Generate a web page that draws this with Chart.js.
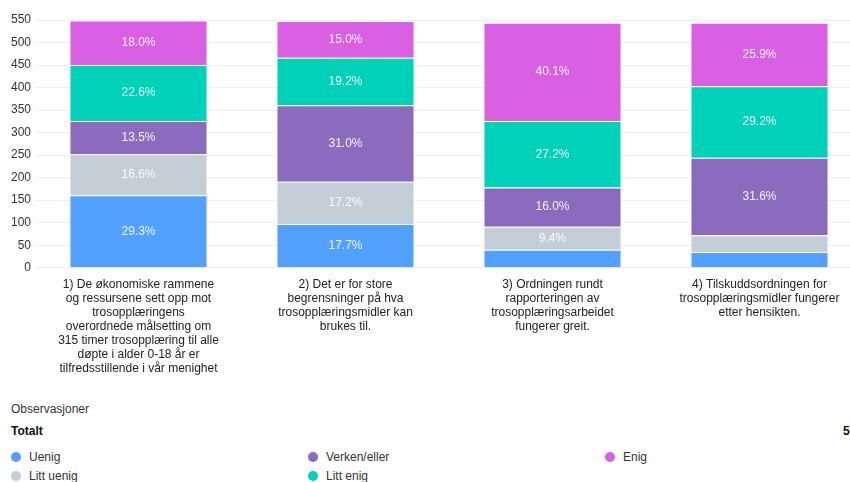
<!DOCTYPE html>
<html>
<head>
<meta charset="utf-8">
<script src="https://cdn.jsdelivr.net/npm/chart.js@4"></script>
<style>
  html, body { margin: 0; padding: 0; background: #fff; overflow: hidden; }
  body { width: 850px; height: 482px; font-family: "Liberation Sans", Arial, sans-serif; color: #333; }
  #wrap { position: relative; width: 866px; height: 482px; }
  #chartBox { position: absolute; left: 0; top: 0; width: 866px; height: 378px; }
  .obs { position: absolute; left: 11px; top: 402px; font-size: 12px; color: #333; }
  .tot { position: absolute; left: 11px; top: 424px; font-size: 12px; font-weight: bold; color: #111; }
  .totn { position: absolute; left: 843px; top: 424px; font-size: 12px; font-weight: bold; color: #111; }
  .leg { position: absolute; font-size: 12px; color: #333; white-space: nowrap; }
  .leg .dot { position: absolute; left: 0; top: 2px; width: 10px; height: 10px; border-radius: 50%; }
  .leg span.t { position: absolute; left: 18px; top: 0; }
</style>
</head>
<body>
<div id="wrap">
  <div id="chartBox"><canvas id="c"></canvas></div>
  <div class="obs">Observasjoner</div>
  <div class="tot">Totalt</div>
  <div class="totn" id="totn"></div>
  <div id="legend"></div>
</div>
<script>
const categories = [
  ["1) De økonomiske rammene", "og ressursene sett opp mot", "trosopplæringens", "overordnede målsetting om", "315 timer trosopplæring til alle", "døpte i alder 0-18 år er", "tilfredsstillende i vår menighet"],
  ["2) Det er for store", "begrensninger på hva", "trosopplæringsmidler kan", "brukes til."],
  ["3) Ordningen rundt", "rapporteringen av", "trosopplæringsarbeidet", "fungerer greit."],
  ["4) Tilskuddsordningen for", "trosopplæringsmidler fungerer", "etter hensikten."]
];
const seriesNames = ["Uenig", "Litt uenig", "Verken/eller", "Litt enig", "Enig"];
const uenig     = [161, 97, 40, 35];
const littUenig = [91, 94, 51, 37];
const verken    = [74, 170, 87, 172];
const littEnig  = [124, 105, 148, 159];
const enig      = [99, 82, 218, 141];
const colors = ["#52A0FF", "#C4CED6", "#8B6BBD", "#00D1B9", "#D960E2"];
const yTicks = [0, 50, 100, 150, 200, 250, 300, 350, 400, 450, 500, 550];
const totalN = "549";

const seriesValues = [uenig, littUenig, verken, littEnig, enig];
const totals = categories.map((_, i) => seriesValues.reduce((s, arr) => s + arr[i], 0));

const FONT = '"Liberation Sans", Arial, sans-serif';

const pctPlugin = {
  id: 'pctLabels',
  afterDatasetsDraw(chart) {
    const ctx = chart.ctx;
    ctx.save();
    ctx.font = '12px ' + FONT;
    ctx.fillStyle = 'rgba(255,255,255,0.92)';
    ctx.textAlign = 'center';
    ctx.textBaseline = 'middle';
    chart.data.datasets.forEach((ds, di) => {
      const meta = chart.getDatasetMeta(di);
      meta.data.forEach((bar, i) => {
        const pct = ds.data[i] / totals[i] * 100;
        if (pct < 8) return;
        const cy = (bar.y + bar.base) / 2;
        ctx.fillText(pct.toFixed(1) + '%', bar.x, cy);
      });
    });
    ctx.restore();
  }
};

new Chart(document.getElementById('c'), {
  type: 'bar',
  data: {
    labels: categories,
    datasets: seriesNames.map((n, k) => ({
      label: n,
      data: seriesValues[k],
      backgroundColor: colors[k],
      borderColor: 'rgba(255,255,255,0.35)',
      borderWidth: 1,
      barPercentage: 0.667,
      categoryPercentage: 1.0
    }))
  },
  options: {
    responsive: true,
    maintainAspectRatio: false,
    animation: false,
    layout: { padding: { left: 11, right: 3, top: 20, bottom: 0 } },
    plugins: { legend: { display: false }, tooltip: { enabled: false } },
    scales: {
      x: {
        stacked: true,
        grid: { display: false },
        border: { display: false },
        ticks: { color: '#222', font: { size: 12, family: FONT, lineHeight: 1.17 }, padding: 2, maxRotation: 0, autoSkip: false }
      },
      y: {
        stacked: true,
        min: 0, max: 550,
        afterBuildTicks(axis) { axis.ticks = yTicks.map(v => ({ value: v })); },
        afterFit(axis) { axis.width = 24; },
        grid: { color: '#EFEFEF', drawTicks: false },
        border: { display: false },
        ticks: { color: '#333', font: { size: 12, family: FONT }, padding: 4 }
      }
    }
  },
  plugins: [pctPlugin]
});

document.getElementById('totn').textContent = totalN;
const legendPos = [[11, 450], [11, 469], [308, 450], [308, 469], [605, 450]];
const legEl = document.getElementById('legend');
seriesNames.forEach((n, k) => {
  const d = document.createElement('div');
  d.className = 'leg';
  d.style.left = legendPos[k][0] + 'px';
  d.style.top = legendPos[k][1] + 'px';
  d.innerHTML = '<div class="dot" style="background:' + colors[k] + '"></div><span class="t"></span>';
  d.querySelector('.t').textContent = n;
  legEl.appendChild(d);
});
</script>
</body>
</html>
